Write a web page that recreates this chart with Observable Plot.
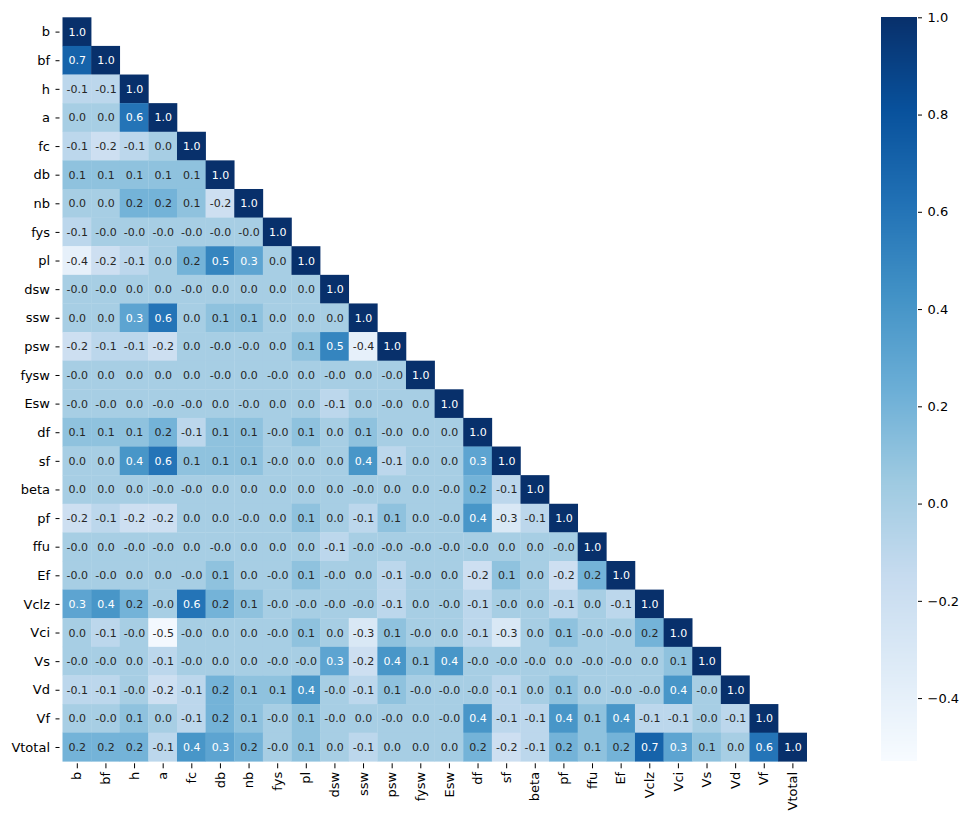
<!DOCTYPE html>
<html>
<head>
<meta charset="utf-8">
<script src="https://cdn.jsdelivr.net/npm/d3@7"></script>
<script src="https://cdn.jsdelivr.net/npm/@observablehq/plot@0.6"></script>
<style>
  body { margin: 0; background: #fff; }
  #wrap { position: relative; width: 963px; height: 813px; font-family: "DejaVu Sans", sans-serif; }
  #heat { position: absolute; left: 0; top: 0; }
  #bar { position: absolute; left: 850px; top: 0; }
</style>
</head>
<body>
<div id="wrap"><div id="heat"></div><div id="bar"></div></div>
<script>
// Variable names, in row/column order of the correlation matrix
const variables = ["b", "bf", "h", "a", "fc", "db", "nb", "fys", "pl", "dsw", "ssw", "psw", "fysw", "Esw",
  "df", "sf", "beta", "pf", "ffu", "Ef", "Vclz", "Vci", "Vs", "Vd", "Vf", "Vtotal"];

// Lower-triangle correlation rows (one decimal; -0.0 keeps its sign for the label)
const corr_b      = [1.0];
const corr_bf     = [0.7, 1.0];
const corr_h      = [-0.1, -0.1, 1.0];
const corr_a      = [0.0, 0.0, 0.6, 1.0];
const corr_fc     = [-0.1, -0.2, -0.1, 0.0, 1.0];
const corr_db     = [0.1, 0.1, 0.1, 0.1, 0.1, 1.0];
const corr_nb     = [0.0, 0.0, 0.2, 0.2, 0.1, -0.2, 1.0];
const corr_fys    = [-0.1, -0.0, -0.0, -0.0, -0.0, -0.0, -0.0, 1.0];
const corr_pl     = [-0.4, -0.2, -0.1, 0.0, 0.2, 0.5, 0.3, 0.0, 1.0];
const corr_dsw    = [-0.0, -0.0, 0.0, 0.0, -0.0, 0.0, 0.0, 0.0, 0.0, 1.0];
const corr_ssw    = [0.0, 0.0, 0.3, 0.6, 0.0, 0.1, 0.1, 0.0, 0.0, 0.0, 1.0];
const corr_psw    = [-0.2, -0.1, -0.1, -0.2, 0.0, -0.0, -0.0, 0.0, 0.1, 0.5, -0.4, 1.0];
const corr_fysw   = [-0.0, 0.0, 0.0, 0.0, 0.0, -0.0, 0.0, -0.0, 0.0, -0.0, 0.0, -0.0, 1.0];
const corr_Esw    = [-0.0, -0.0, 0.0, -0.0, -0.0, 0.0, -0.0, 0.0, 0.0, -0.1, 0.0, -0.0, 0.0, 1.0];
const corr_df     = [0.1, 0.1, 0.1, 0.2, -0.1, 0.1, 0.1, -0.0, 0.1, 0.0, 0.1, -0.0, 0.0, 0.0, 1.0];
const corr_sf     = [0.0, 0.0, 0.4, 0.6, 0.1, 0.1, 0.1, -0.0, 0.0, 0.0, 0.4, -0.1, 0.0, 0.0, 0.3, 1.0];
const corr_beta   = [0.0, 0.0, 0.0, -0.0, -0.0, 0.0, 0.0, 0.0, 0.0, 0.0, -0.0, 0.0, 0.0, -0.0, 0.2, -0.1, 1.0];
const corr_pf     = [-0.2, -0.1, -0.2, -0.2, 0.0, 0.0, -0.0, 0.0, 0.1, 0.0, -0.1, 0.1, 0.0, -0.0, 0.4, -0.3, -0.1, 1.0];
const corr_ffu    = [-0.0, 0.0, -0.0, -0.0, 0.0, -0.0, 0.0, 0.0, 0.0, -0.1, -0.0, -0.0, -0.0, -0.0, -0.0, 0.0, 0.0, -0.0, 1.0];
const corr_Ef     = [-0.0, -0.0, 0.0, 0.0, -0.0, 0.1, 0.0, -0.0, 0.1, -0.0, 0.0, -0.1, -0.0, 0.0, -0.2, 0.1, 0.0, -0.2, 0.2, 1.0];
const corr_Vclz   = [0.3, 0.4, 0.2, -0.0, 0.6, 0.2, 0.1, -0.0, -0.0, -0.0, -0.0, -0.1, 0.0, -0.0, -0.1, -0.0, 0.0, -0.1, 0.0, -0.1, 1.0];
const corr_Vci    = [0.0, -0.1, -0.0, -0.5, -0.0, 0.0, 0.0, -0.0, 0.1, 0.0, -0.3, 0.1, -0.0, 0.0, -0.1, -0.3, 0.0, 0.1, -0.0, -0.0, 0.2, 1.0];
const corr_Vs     = [-0.0, -0.0, 0.0, -0.1, -0.0, 0.0, 0.0, -0.0, -0.0, 0.3, -0.2, 0.4, 0.1, 0.4, -0.0, -0.0, -0.0, 0.0, -0.0, -0.0, 0.0, 0.1, 1.0];
const corr_Vd     = [-0.1, -0.1, -0.0, -0.2, -0.1, 0.2, 0.1, 0.1, 0.4, -0.0, -0.1, 0.1, -0.0, -0.0, -0.0, -0.1, 0.0, 0.1, 0.0, -0.0, -0.0, 0.4, -0.0, 1.0];
const corr_Vf     = [0.0, -0.0, 0.1, 0.0, -0.1, 0.2, 0.1, -0.0, 0.1, -0.0, 0.0, -0.0, 0.0, -0.0, 0.4, -0.1, -0.1, 0.4, 0.1, 0.4, -0.1, -0.1, -0.0, -0.1, 1.0];
const corr_Vtotal = [0.2, 0.2, 0.2, -0.1, 0.4, 0.3, 0.2, -0.0, 0.1, 0.0, -0.1, 0.0, 0.0, 0.0, 0.2, -0.2, -0.1, 0.2, 0.1, 0.2, 0.7, 0.3, 0.1, 0.0, 0.6, 1.0];

// Colour bar ticks and colour range
const colorbarTicks = [-0.4, -0.2, 0.0, 0.2, 0.4, 0.6, 0.8, 1.0];
const colorExtent = [-0.53, 1.0];
const bluesRamp = ["#f7fbff", "#deebf7", "#c6dbef", "#9ecae1", "#6baed6", "#4292c6", "#2171b5", "#08519c", "#08306b"];

const rows = [corr_b, corr_bf, corr_h, corr_a, corr_fc, corr_db, corr_nb, corr_fys, corr_pl, corr_dsw,
  corr_ssw, corr_psw, corr_fysw, corr_Esw, corr_df, corr_sf, corr_beta, corr_pf, corr_ffu, corr_Ef,
  corr_Vclz, corr_Vci, corr_Vs, corr_Vd, corr_Vf, corr_Vtotal];

const cells = rows.flatMap((vals, i) => vals.map((v, j) => ({row: variables[i], col: variables[j], v})));

// Cell annotation: one decimal, ASCII hyphen, negative zero keeps its sign
const fmtCell = v => ((v < 0 || Object.is(v, -0)) ? "-" : "") + Math.abs(v).toFixed(1);

const colorStops = bluesRamp.map((_, i) => colorExtent[0] + (colorExtent[1] - colorExtent[0]) * i / (bluesRamp.length - 1));
const colorScale = {type: "linear", domain: colorStops, range: bluesRamp, clamp: true};

const fontStack = "'DejaVu Sans', sans-serif";
const W = 830, H = 813;
const gridLeft = 62.5, gridRight = 806.7, gridTop = 17.3, gridBottom = 761.3;

const heat = Plot.plot({
  width: W,
  height: H,
  marginLeft: gridLeft,
  marginRight: W - gridRight,
  marginTop: gridTop,
  marginBottom: H - gridBottom,
  style: {fontFamily: fontStack, fontSize: "13px", color: "#000", background: "transparent"},
  x: {domain: variables, padding: 0, round: false, label: null},
  y: {domain: variables, padding: 0, round: false, label: null},
  color: colorScale,
  marks: [
    Plot.cell(cells, {x: "col", y: "row", fill: "v", insetRight: -0.3, insetBottom: -0.3}),
    Plot.text(cells.filter(d => d.v > 0.25), {x: "col", y: "row", text: d => fmtCell(d.v), fill: "#ffffff", fontSize: 11}),
    Plot.text(cells.filter(d => d.v <= 0.25), {x: "col", y: "row", text: d => fmtCell(d.v), fill: "#262626", fontSize: 11}),
    Plot.axisX({tickRotate: -90, tickSize: 5, tickPadding: 3, dy: 2, label: null, fontSize: 13}),
    Plot.axisY({tickSize: 4, tickPadding: 6, dx: -3, label: null, fontSize: 13})
  ]
});
document.getElementById("heat").appendChild(heat);

// Colour bar: one-pixel slices spanning the colour extent
const nSlices = 744;
const sliceStep = (colorExtent[1] - colorExtent[0]) / nSlices;
const slices = d3.range(nSlices).map(i => colorExtent[0] + i * sliceStep);
const BW = 113;
const bar = Plot.plot({
  width: BW,
  height: H,
  marginLeft: 31,
  marginRight: BW - 31 - 36,
  marginTop: gridTop,
  marginBottom: H - gridBottom,
  style: {fontFamily: fontStack, fontSize: "13px", color: "#000", background: "transparent"},
  x: {domain: [0, 1], axis: null},
  y: {domain: colorExtent, label: null},
  color: colorScale,
  marks: [
    Plot.rect(slices, {x1: 0, x2: 1, y1: d => d, y2: d => d + sliceStep, fill: d => d + sliceStep / 2, shapeRendering: "crispEdges"}),
    Plot.axisY(colorbarTicks, {anchor: "right", tickSize: 4, tickPadding: 6, tickFormat: d3.format(".1f"), label: null, fontSize: 13})
  ]
});
document.getElementById("bar").appendChild(bar);
</script>
</body>
</html>
